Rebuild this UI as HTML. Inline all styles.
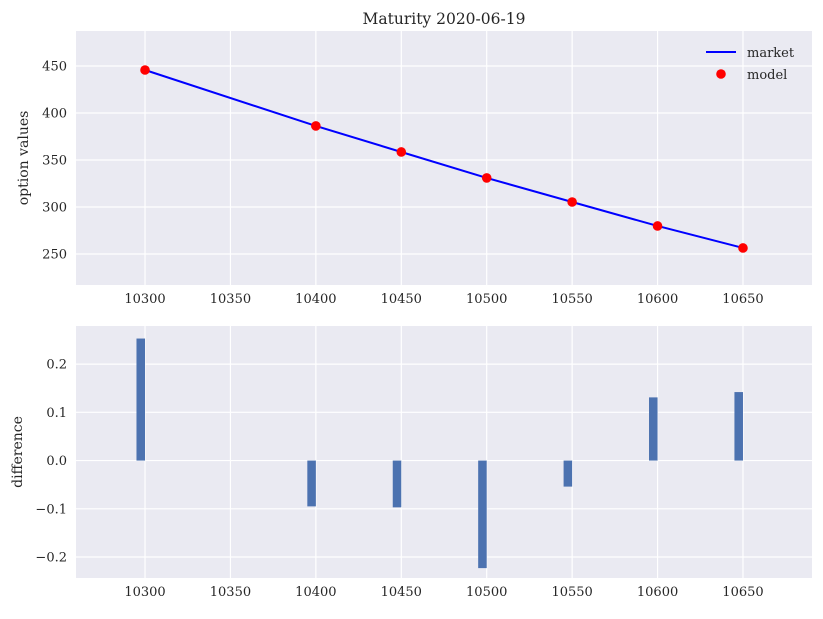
<!DOCTYPE html>
<html><head><meta charset="utf-8"><style>
body{margin:0;background:#fff;}
svg text{font-family:"DejaVu Serif","Liberation Serif",serif;fill:#262626;}
</style></head><body>
<svg id="chart" width="823" height="614" xmlns="http://www.w3.org/2000/svg"></svg>
<script>
const strikes=[10300,10400,10450,10500,10550,10600,10650];
const marketValues=[445.7,386.2,358.5,330.9,305.3,279.8,256.4];
const modelValues=[445.7,386.2,358.5,330.9,305.3,279.8,256.4];
const differences=[0.253,-0.095,-0.097,-0.223,-0.054,0.131,0.142];
const xTicks=[10300,10350,10400,10450,10500,10550,10600,10650];
const yTicksTop=[250,300,350,400,450];
const yTicksBot=[-0.2,-0.1,0.0,0.1,0.2];
const NS="http://www.w3.org/2000/svg";
const svg=document.getElementById('chart');
function el(t,a,p){const e=document.createElementNS(NS,t);for(const k in a)e.setAttribute(k,a[k]);(p||svg).appendChild(e);return e;}
const X0=76,X1=812,xmin=10259.6,xmax=10690.4;
const sx=v=>X0+(v-xmin)/(xmax-xmin)*(X1-X0);
function axes(y0,y1,ymin,ymax,ticks,fmt,name,ylabel){
  const sy=v=>y1-(v-ymin)/(ymax-ymin)*(y1-y0);
  const g=el('g',{});
  
  
  el('rect',{x:X0,y:y0,width:X1-X0,height:y1-y0,fill:'#EAEAF2'},g);
  xTicks.forEach(t=>{el('line',{x1:sx(t),x2:sx(t),y1:y0,y2:y1,stroke:'#fff','stroke-width':1.2},g);
    const tx=el('text',{x:sx(t),y:y1+18,'text-anchor':'middle','font-size':13},g);tx.textContent=t;
    });
  ticks.forEach(t=>{el('line',{x1:X0,x2:X1,y1:sy(t),y2:sy(t),stroke:'#fff','stroke-width':1.2},g);
    const tx=el('text',{x:X0-9,y:sy(t)+4.5,'text-anchor':'end','font-size':13},g);tx.textContent=fmt(t);
    });
  const yl=el('text',{x:0,y:0,'text-anchor':'middle','font-size':14,transform:`translate(${name==='top-axes'?28:22},${(y0+y1)/2}) rotate(-90)`},g);
  yl.textContent=ylabel;
  
  return sy;
}
const t=el('text',{x:444,y:24,'text-anchor':'middle','font-size':15.5});t.textContent='Maturity 2020-06-19';

const sy1=axes(31,285,217,487.2,yTicksTop,v=>v,'top-axes','option values');
el('polyline',{points:strikes.map((s,i)=>sx(s)+','+sy1(marketValues[i])).join(' '),fill:'none',stroke:'#0000ff','stroke-width':2});
strikes.forEach((s,i)=>{const c=el('circle',{cx:sx(s),cy:sy1(modelValues[i]),r:4.8,fill:'#ff0000'});
  });
// legend
const lg=el('g',{});
el('line',{x1:706,x2:736,y1:52,y2:52,stroke:'#0000ff','stroke-width':2},lg);
let lt=el('text',{x:747,y:57,'font-size':13},lg);lt.textContent='market';
el('circle',{cx:721,cy:74,r:4.8,fill:'#ff0000'},lg);
lt=el('text',{x:747,y:79,'font-size':13},lg);lt.textContent='model';
const sy2=axes(326,578,-0.2435,0.279,yTicksBot,v=>v===0?'0.0':(v<0?'\u2212'+Math.abs(v).toFixed(1):v.toFixed(1)),'bottom-axes','difference');
strikes.forEach((s,i)=>{const d=differences[i];const a=sx(s-5),b=sx(s);
  const r=el('rect',{x:a,width:b-a,y:Math.min(sy2(0),sy2(d)),height:Math.abs(sy2(d)-sy2(0)),fill:'#4C72B0'});
  });
</script>
</body></html>
